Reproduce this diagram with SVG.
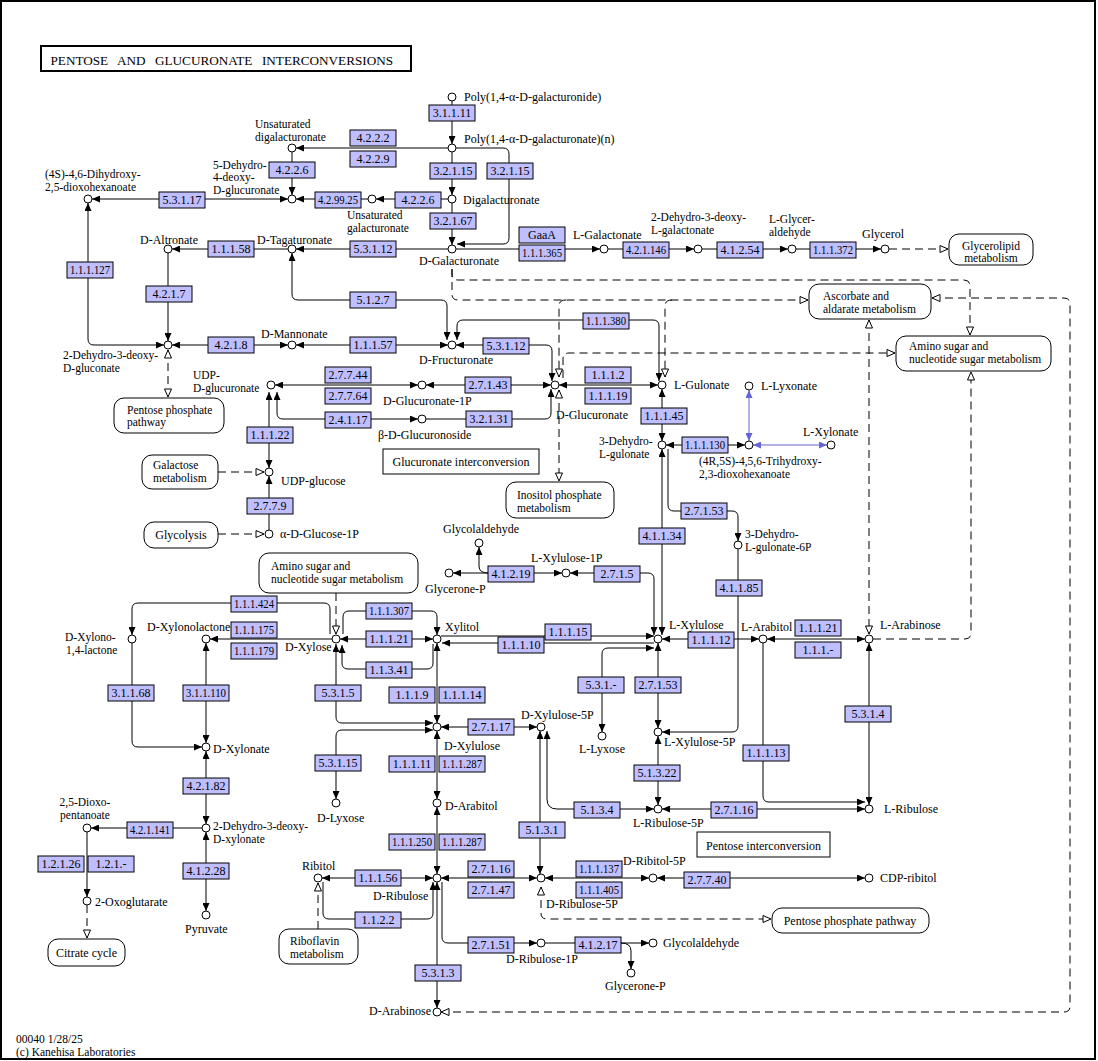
<svg xmlns="http://www.w3.org/2000/svg" width="1098" height="1061" viewBox="0 0 1098 1061">
<style>
text{font-family:"Liberation Serif","Times New Roman",serif;font-size:12px;fill:#000}
text.ml{font-size:11.5px}
.e rect{fill:#bfbfff;stroke:#000;stroke-width:1}
.e text{text-anchor:middle}
.c circle{fill:#fff;stroke:#000;stroke-width:1}
.m rect{fill:#fff;stroke:#000;stroke-width:1}
.mc{text-anchor:middle}
#edges path{fill:none;stroke:#000;stroke-width:1}
#edges path.d{stroke-dasharray:8 5}
#edges path.b2{stroke:#6464d2;marker-start:url(#bh);marker-end:url(#bh)}
.a1{marker-end:url(#ah)}
.a2{marker-start:url(#ah);marker-end:url(#ah)}
.o1{marker-end:url(#oh)}
.o2{marker-start:url(#oh);marker-end:url(#oh)}
</style>
<defs>
<marker id="ah" viewBox="0 0 8 7" refX="8" refY="3.5" markerWidth="8" markerHeight="7" markerUnits="userSpaceOnUse" orient="auto-start-reverse"><path d="M0,0L8,3.5L0,7Z" fill="#000"/></marker>
<marker id="bh" viewBox="0 0 8 7" refX="8" refY="3.5" markerWidth="8" markerHeight="7" markerUnits="userSpaceOnUse" orient="auto-start-reverse"><path d="M0,0L8,3.5L0,7Z" fill="#6464d2"/></marker>
<marker id="oh" viewBox="-1 -1 10 9" refX="8" refY="3.5" markerWidth="10" markerHeight="9" markerUnits="userSpaceOnUse" orient="auto-start-reverse"><path d="M0,0L8,3.5L0,7Z" fill="#fff" stroke="#000" stroke-width="1"/></marker>
</defs>
<rect x="1" y="1" width="1094" height="1058" fill="#fff" stroke="#000" stroke-width="2"/>
<g id="title"><rect x="41" y="46" width="370" height="25" fill="#fff" stroke="#000" stroke-width="2"/><text x="50.5" y="65" style="font-size:13.2px;word-spacing:6.2px">PENTOSE AND GLUCURONATE INTERCONVERSIONS</text></g>

<g id="edges">
<path class="a1" d="M452,101V144"/>
<path class="a1" d="M448,148H296"/>
<path class="a1" d="M292,152V195"/>
<path class="a1" d="M452,152V195"/>
<path class="a1" d="M456,148H503Q509,148 509,154V238Q509,244 503,244H457"/>
<path class="a1" d="M448,199H376"/>
<path class="a1" d="M452,203V245"/>
<path class="a1" d="M368,199H296"/>
<path class="a2" d="M288,199H92"/>
<path class="a1" d="M448,249H296"/>
<path class="a1" d="M288,249H172"/>
<path class="a2" d="M88,203V339Q88,345 94,345H164"/>
<path class="a1" d="M168,253V341"/>
<path class="a2" d="M288,345H172"/>
<path class="a2" d="M448,345H296"/>
<path class="a2" d="M292,253V294Q292,300 298,300H441Q447,300 447,306V340"/>
<path class="a2" d="M457,340V326Q457,320 463,320H653Q659,320 659,326V381"/>
<path class="a2" d="M456,345H546Q552,345 552,351V381"/>
<path class="a2" d="M418,385H275"/>
<path class="a2" d="M551,385H426"/>
<path class="a2" d="M277,392V413Q277,419 283,419H418"/>
<path class="a1" d="M426,419H545Q551,419 551,413V389"/>
<path class="a2" d="M269,392V468"/>
<path class="a1" d="M269,530V476"/>
<path class="a1" d="M456,249H600"/>
<path class="a1" d="M608,249H694"/>
<path class="a1" d="M702,249H788"/>
<path class="a1" d="M796,249H881"/>
<path class="a2" d="M559,385H658"/>
<path class="a2" d="M662,389V441"/>
<path class="a2" d="M745,445H666"/>
<path class="b2" d="M749,441V390"/>
<path class="b2" d="M753,445H827"/>
<path class="a1" d="M668,449V505Q668,511 674,511H732Q738,511 738,517V541"/>
<path class="a2" d="M662,449V635"/>
<path class="a1" d="M738,549V726Q738,732 732,732H662"/>
<path class="a2" d="M570,573H648Q654,573 654,579V635"/>
<path class="a2" d="M562,573H453"/>
<path class="a1" d="M488,573Q479,573 479,566V547"/>
<path class="a1" d="M330,634V609Q330,603 324,603H138Q132,603 132,609V635"/>
<path class="a1" d="M332,639H210"/>
<path class="a2" d="M340,639H433"/>
<path class="a1" d="M343,634V617Q343,611 349,611H431Q437,611 437,617V635"/>
<path class="a1" d="M433,644V663Q433,669 427,669H348Q342,669 342,663V645"/>
<path class="a2" d="M336,644V717Q336,723 342,723H433"/>
<path class="a2" d="M336,799V736Q336,730 342,730H433"/>
<path class="a1" d="M441,636H654"/>
<path class="a1" d="M654,643H442"/>
<path class="a2" d="M602,732V654Q602,648 608,648H654"/>
<path class="a2" d="M759,639H662"/>
<path class="a2" d="M767,639H865"/>
<path class="a2" d="M869,643V805"/>
<path class="a1" d="M763,643V796Q763,802 769,802H865"/>
<path class="a2" d="M662,809H865"/>
<path class="a2" d="M658,643V728"/>
<path class="a2" d="M658,736V805"/>
<path class="a2" d="M547,731V799Q547,809 557,809H654"/>
<path class="a2" d="M540,731V874"/>
<path class="a2" d="M441,727H537"/>
<path class="a2" d="M437,643V723"/>
<path class="a2" d="M437,731V799"/>
<path class="a2" d="M437,807V874"/>
<path class="a2" d="M433,878H322"/>
<path class="a1" d="M323,882V913Q323,919 329,919H427Q433,919 433,913V882"/>
<path class="a2" d="M437,882V1008"/>
<path class="a1" d="M442,882V937Q442,943 448,943H537"/>
<path class="a1" d="M545,943H649"/>
<path class="a1" d="M621,943Q631,943 631,951V969"/>
<path class="a2" d="M441,878H537"/>
<path class="a2" d="M545,878H649"/>
<path class="a2" d="M657,878H865"/>
<path class="a2" d="M206,751V824"/>
<path class="a2" d="M206,643V743"/>
<path class="a1" d="M132,643V741Q132,747 138,747H202"/>
<path class="a1" d="M202,828H91"/>
<path class="a1" d="M87,832V897"/>
<path class="a2" d="M206,832V911"/>
<path class="d o1" d="M452,269V274Q452,280 458,280H964Q970,280 970,286V335"/>
<path class="d o1" d="M452,269V294Q452,300 458,300H808"/>
<path class="d o1" d="M566,300Q559,300 559,306V377"/>
<path class="d o1" d="M672,300Q665,300 665,306V377"/>
<path class="d o1" d="M563,378V359Q563,353 569,353H895"/>
<path class="d o2" d="M559,390V481"/>
<path class="d o2" d="M932,298H1064Q1070,298 1070,304V1006Q1070,1012 1064,1012H441"/>
<path class="d o2" d="M869,320V634"/>
<path class="d o1" d="M873,639H965Q971,639 971,633V372"/>
<path class="d o2" d="M541,887V913Q541,919 547,919H771"/>
<path class="d o1" d="M318,929V883"/>
<path class="d o1" d="M87,905V938"/>
<path class="d o1" d="M336,593V634"/>
<path class="d o2" d="M168,350V397"/>
<path class="d o1" d="M218,472H264"/>
<path class="d o1" d="M218,534H264"/>
<path class="d o1" d="M889,249H948"/>
</g>

<g id="maps">
<g id="m-glycerolipid" class="m"><rect x="949" y="234" width="84" height="31" rx="10"/><text class="mc ml" x="991" y="249.5">Glycerolipid<tspan x="991" dy="12.8">metabolism</tspan></text></g>
<g id="m-ascorbate" class="m"><rect x="809" y="284" width="122" height="35" rx="10"/><text class="ml" x="823" y="300">Ascorbate and<tspan x="823" dy="12.8">aldarate metabolism</tspan></text></g>
<g id="m-aminosugar-r" class="m"><rect x="896" y="336" width="155" height="35" rx="10"/><text class="ml" x="909" y="350">Amino sugar and<tspan x="909" dy="12.8">nucleotide sugar metabolism</tspan></text></g>
<g id="m-ppp-l" class="m"><rect x="114" y="398" width="110" height="35" rx="10"/><text class="ml" x="127" y="413.5">Pentose phosphate<tspan x="127" dy="12.8">pathway</tspan></text></g>
<g id="m-galactose" class="m"><rect x="142" y="455" width="76" height="34" rx="10"/><text class="ml" x="153" y="469">Galactose<tspan x="153" dy="12.8">metabolism</tspan></text></g>
<g id="m-inositol" class="m"><rect x="506" y="482" width="108" height="36" rx="10"/><text class="ml" x="517" y="499">Inositol phosphate<tspan x="517" dy="12.8">metabolism</tspan></text></g>
<g id="m-glycolysis" class="m"><rect x="144" y="522" width="74" height="26" rx="10"/><text class="mc" x="181" y="539">Glycolysis</text></g>
<g id="m-aminosugar-l" class="m"><rect x="259" y="553" width="159" height="40" rx="10"/><text class="ml" x="271" y="570">Amino sugar and<tspan x="271" dy="12.8">nucleotide sugar metabolism</tspan></text></g>
<g id="m-citrate" class="m"><rect x="48" y="939" width="77" height="27" rx="10"/><text class="mc" x="86.5" y="957">Citrate cycle</text></g>
<g id="m-riboflavin" class="m"><rect x="279" y="929" width="79" height="35" rx="10"/><text class="ml" x="290" y="945">Riboflavin<tspan x="290" dy="12.8">metabolism</tspan></text></g>
<g id="m-ppp-r" class="m"><rect x="772" y="908" width="157" height="25" rx="10"/><text class="mc" x="850" y="925">Pentose phosphate pathway</text></g>
<g id="t-glucuronate" class="m"><rect x="383" y="449" width="156" height="25"/><text class="mc" x="461" y="466">Glucuronate interconversion</text></g>
<g id="t-pentose" class="m"><rect x="697" y="832" width="133" height="25"/><text class="mc" x="763.5" y="850">Pentose interconversion</text></g>
</g>

<g id="enzymes">
<g id="e-3.1.1.11" class="e"><rect x="429" y="105" width="46" height="16"/><text x="452" y="117">3.1.1.11</text></g>
<g id="e-4.2.2.2" class="e"><rect x="350" y="130" width="46" height="16"/><text x="373" y="142">4.2.2.2</text></g>
<g id="e-4.2.2.9" class="e"><rect x="350" y="151" width="46" height="16"/><text x="373" y="163">4.2.2.9</text></g>
<g id="e-3.2.1.15a" class="e"><rect x="430" y="163" width="46" height="16"/><text x="453" y="175">3.2.1.15</text></g>
<g id="e-3.2.1.15b" class="e"><rect x="487" y="163" width="46" height="16"/><text x="510" y="175">3.2.1.15</text></g>
<g id="e-4.2.2.6a" class="e"><rect x="269" y="162" width="46" height="16"/><text x="292" y="174">4.2.2.6</text></g>
<g id="e-4.2.2.6b" class="e"><rect x="395" y="192" width="46" height="16"/><text x="418" y="204">4.2.2.6</text></g>
<g id="e-4.2.99.25" class="e"><rect x="315" y="192" width="46" height="16"/><text x="338" y="204" textLength="40" lengthAdjust="spacingAndGlyphs">4.2.99.25</text></g>
<g id="e-5.3.1.17" class="e"><rect x="159" y="192" width="46" height="16"/><text x="182" y="204">5.3.1.17</text></g>
<g id="e-3.2.1.67" class="e"><rect x="430" y="213" width="46" height="16"/><text x="453" y="225">3.2.1.67</text></g>
<g id="e-1.1.1.58" class="e"><rect x="208" y="241" width="46" height="16"/><text x="231" y="253">1.1.1.58</text></g>
<g id="e-5.3.1.12a" class="e"><rect x="350" y="241" width="46" height="16"/><text x="373" y="253">5.3.1.12</text></g>
<g id="e-GaaA" class="e"><rect x="519" y="227" width="46" height="16"/><text x="542" y="239">GaaA</text></g>
<g id="e-1.1.1.365" class="e"><rect x="519" y="245" width="46" height="16"/><text x="542" y="257" textLength="40" lengthAdjust="spacingAndGlyphs">1.1.1.365</text></g>
<g id="e-4.2.1.146" class="e"><rect x="623" y="242" width="46" height="16"/><text x="646" y="254" textLength="40" lengthAdjust="spacingAndGlyphs">4.2.1.146</text></g>
<g id="e-4.1.2.54" class="e"><rect x="717" y="242" width="46" height="16"/><text x="740" y="254">4.1.2.54</text></g>
<g id="e-1.1.1.372" class="e"><rect x="810" y="242" width="46" height="16"/><text x="833" y="254" textLength="40" lengthAdjust="spacingAndGlyphs">1.1.1.372</text></g>
<g id="e-1.1.1.127" class="e"><rect x="67" y="262" width="46" height="16"/><text x="90" y="274" textLength="40" lengthAdjust="spacingAndGlyphs">1.1.1.127</text></g>
<g id="e-4.2.1.7" class="e"><rect x="146" y="286" width="46" height="16"/><text x="169" y="298">4.2.1.7</text></g>
<g id="e-5.1.2.7" class="e"><rect x="350" y="292" width="46" height="16"/><text x="373" y="304">5.1.2.7</text></g>
<g id="e-4.2.1.8" class="e"><rect x="208" y="337" width="46" height="16"/><text x="231" y="349">4.2.1.8</text></g>
<g id="e-1.1.1.57" class="e"><rect x="350" y="337" width="46" height="16"/><text x="373" y="349">1.1.1.57</text></g>
<g id="e-5.3.1.12b" class="e"><rect x="483" y="338" width="46" height="16"/><text x="506" y="350">5.3.1.12</text></g>
<g id="e-1.1.1.380" class="e"><rect x="583" y="313" width="46" height="16"/><text x="606" y="325" textLength="40" lengthAdjust="spacingAndGlyphs">1.1.1.380</text></g>
<g id="e-2.7.7.44" class="e"><rect x="325" y="367" width="46" height="16"/><text x="348" y="379">2.7.7.44</text></g>
<g id="e-2.7.7.64" class="e"><rect x="325" y="388" width="46" height="16"/><text x="348" y="400">2.7.7.64</text></g>
<g id="e-2.4.1.17" class="e"><rect x="325" y="412" width="46" height="16"/><text x="348" y="424">2.4.1.17</text></g>
<g id="e-2.7.1.43" class="e"><rect x="465" y="377" width="46" height="16"/><text x="488" y="389">2.7.1.43</text></g>
<g id="e-3.2.1.31" class="e"><rect x="466" y="411" width="46" height="16"/><text x="489" y="423">3.2.1.31</text></g>
<g id="e-1.1.1.2" class="e"><rect x="585" y="367" width="46" height="16"/><text x="608" y="379">1.1.1.2</text></g>
<g id="e-1.1.1.19" class="e"><rect x="585" y="388" width="46" height="16"/><text x="608" y="400">1.1.1.19</text></g>
<g id="e-1.1.1.45" class="e"><rect x="641" y="408" width="46" height="16"/><text x="664" y="420">1.1.1.45</text></g>
<g id="e-1.1.1.130" class="e"><rect x="682" y="437" width="46" height="16"/><text x="705" y="449" textLength="40" lengthAdjust="spacingAndGlyphs">1.1.1.130</text></g>
<g id="e-1.1.1.22" class="e"><rect x="247" y="427" width="46" height="16"/><text x="270" y="439">1.1.1.22</text></g>
<g id="e-2.7.7.9" class="e"><rect x="247" y="498" width="46" height="16"/><text x="270" y="510">2.7.7.9</text></g>
<g id="e-2.7.1.53a" class="e"><rect x="681" y="503" width="46" height="16"/><text x="704" y="515">2.7.1.53</text></g>
<g id="e-4.1.1.34" class="e"><rect x="639" y="528" width="46" height="16"/><text x="662" y="540">4.1.1.34</text></g>
<g id="e-4.1.1.85" class="e"><rect x="716" y="580" width="46" height="16"/><text x="739" y="592">4.1.1.85</text></g>
<g id="e-4.1.2.19" class="e"><rect x="488" y="566" width="46" height="16"/><text x="511" y="578">4.1.2.19</text></g>
<g id="e-2.7.1.5" class="e"><rect x="594" y="566" width="46" height="16"/><text x="617" y="578">2.7.1.5</text></g>
<g id="e-1.1.1.424" class="e"><rect x="231" y="596" width="46" height="16"/><text x="254" y="608" textLength="40" lengthAdjust="spacingAndGlyphs">1.1.1.424</text></g>
<g id="e-1.1.1.307" class="e"><rect x="366" y="603" width="46" height="16"/><text x="389" y="615" textLength="40" lengthAdjust="spacingAndGlyphs">1.1.1.307</text></g>
<g id="e-1.1.1.175" class="e"><rect x="231" y="622" width="46" height="16"/><text x="254" y="634" textLength="40" lengthAdjust="spacingAndGlyphs">1.1.1.175</text></g>
<g id="e-1.1.1.179" class="e"><rect x="231" y="643" width="46" height="16"/><text x="254" y="655" textLength="40" lengthAdjust="spacingAndGlyphs">1.1.1.179</text></g>
<g id="e-1.1.1.21a" class="e"><rect x="366" y="631" width="46" height="16"/><text x="389" y="643">1.1.1.21</text></g>
<g id="e-1.1.1.15" class="e"><rect x="545" y="624" width="46" height="16"/><text x="568" y="636">1.1.1.15</text></g>
<g id="e-1.1.1.10" class="e"><rect x="498" y="637" width="46" height="16"/><text x="521" y="649">1.1.1.10</text></g>
<g id="e-1.1.1.12" class="e"><rect x="688" y="632" width="46" height="16"/><text x="711" y="644">1.1.1.12</text></g>
<g id="e-1.1.1.21b" class="e"><rect x="795" y="620" width="46" height="16"/><text x="818" y="632">1.1.1.21</text></g>
<g id="e-1.1.1.-" class="e"><rect x="795" y="642" width="46" height="16"/><text x="818" y="654">1.1.1.-</text></g>
<g id="e-1.1.3.41" class="e"><rect x="366" y="662" width="46" height="16"/><text x="389" y="674">1.1.3.41</text></g>
<g id="e-3.1.1.68" class="e"><rect x="108" y="685" width="46" height="16"/><text x="131" y="697">3.1.1.68</text></g>
<g id="e-3.1.1.110" class="e"><rect x="183" y="685" width="46" height="16"/><text x="206" y="697" textLength="40" lengthAdjust="spacingAndGlyphs">3.1.1.110</text></g>
<g id="e-5.3.1.5" class="e"><rect x="315" y="685" width="46" height="16"/><text x="338" y="697">5.3.1.5</text></g>
<g id="e-1.1.1.9" class="e"><rect x="389" y="687" width="46" height="16"/><text x="412" y="699">1.1.1.9</text></g>
<g id="e-1.1.1.14" class="e"><rect x="439" y="687" width="46" height="16"/><text x="462" y="699">1.1.1.14</text></g>
<g id="e-5.3.1.-" class="e"><rect x="578" y="677" width="46" height="16"/><text x="601" y="689">5.3.1.-</text></g>
<g id="e-2.7.1.53b" class="e"><rect x="635" y="677" width="46" height="16"/><text x="658" y="689">2.7.1.53</text></g>
<g id="e-5.3.1.4" class="e"><rect x="845" y="706" width="46" height="16"/><text x="868" y="718">5.3.1.4</text></g>
<g id="e-2.7.1.17" class="e"><rect x="468" y="719" width="46" height="16"/><text x="491" y="731">2.7.1.17</text></g>
<g id="e-1.1.1.13" class="e"><rect x="743" y="745" width="46" height="16"/><text x="766" y="757">1.1.1.13</text></g>
<g id="e-5.3.1.15" class="e"><rect x="315" y="755" width="46" height="16"/><text x="338" y="767">5.3.1.15</text></g>
<g id="e-1.1.1.11" class="e"><rect x="389" y="756" width="46" height="16"/><text x="412" y="768">1.1.1.11</text></g>
<g id="e-1.1.1.287a" class="e"><rect x="439" y="756" width="46" height="16"/><text x="462" y="768" textLength="40" lengthAdjust="spacingAndGlyphs">1.1.1.287</text></g>
<g id="e-5.1.3.22" class="e"><rect x="634" y="765" width="46" height="16"/><text x="657" y="777">5.1.3.22</text></g>
<g id="e-4.2.1.82" class="e"><rect x="183" y="778" width="46" height="16"/><text x="206" y="790">4.2.1.82</text></g>
<g id="e-5.1.3.4" class="e"><rect x="574" y="802" width="46" height="16"/><text x="597" y="814">5.1.3.4</text></g>
<g id="e-2.7.1.16b" class="e"><rect x="711" y="802" width="46" height="16"/><text x="734" y="814">2.7.1.16</text></g>
<g id="e-4.2.1.141" class="e"><rect x="127" y="822" width="46" height="16"/><text x="150" y="834" textLength="40" lengthAdjust="spacingAndGlyphs">4.2.1.141</text></g>
<g id="e-5.1.3.1" class="e"><rect x="519" y="822" width="46" height="16"/><text x="542" y="834">5.1.3.1</text></g>
<g id="e-1.1.1.250" class="e"><rect x="389" y="834" width="46" height="16"/><text x="412" y="846" textLength="40" lengthAdjust="spacingAndGlyphs">1.1.1.250</text></g>
<g id="e-1.1.1.287b" class="e"><rect x="439" y="834" width="46" height="16"/><text x="462" y="846" textLength="40" lengthAdjust="spacingAndGlyphs">1.1.1.287</text></g>
<g id="e-1.2.1.26" class="e"><rect x="38" y="856" width="46" height="16"/><text x="61" y="868">1.2.1.26</text></g>
<g id="e-1.2.1.-" class="e"><rect x="88" y="856" width="46" height="16"/><text x="111" y="868">1.2.1.-</text></g>
<g id="e-4.1.2.28" class="e"><rect x="183" y="863" width="46" height="16"/><text x="206" y="875">4.1.2.28</text></g>
<g id="e-2.7.1.16a" class="e"><rect x="468" y="861" width="46" height="16"/><text x="491" y="873">2.7.1.16</text></g>
<g id="e-2.7.1.47" class="e"><rect x="468" y="882" width="46" height="16"/><text x="491" y="894">2.7.1.47</text></g>
<g id="e-1.1.1.137" class="e"><rect x="576" y="861" width="46" height="16"/><text x="599" y="873" textLength="40" lengthAdjust="spacingAndGlyphs">1.1.1.137</text></g>
<g id="e-1.1.1.405" class="e"><rect x="576" y="882" width="46" height="16"/><text x="599" y="894" textLength="40" lengthAdjust="spacingAndGlyphs">1.1.1.405</text></g>
<g id="e-1.1.1.56" class="e"><rect x="355" y="870" width="46" height="16"/><text x="378" y="882">1.1.1.56</text></g>
<g id="e-2.7.7.40" class="e"><rect x="684" y="872" width="46" height="16"/><text x="707" y="884">2.7.7.40</text></g>
<g id="e-1.1.2.2" class="e"><rect x="355" y="912" width="46" height="16"/><text x="378" y="924">1.1.2.2</text></g>
<g id="e-2.7.1.51" class="e"><rect x="468" y="937" width="46" height="16"/><text x="491" y="949">2.7.1.51</text></g>
<g id="e-4.1.2.17" class="e"><rect x="575" y="937" width="46" height="16"/><text x="598" y="949">4.1.2.17</text></g>
<g id="e-5.3.1.3" class="e"><rect x="415" y="965" width="46" height="16"/><text x="438" y="977">5.3.1.3</text></g>
</g>

<g id="compounds">
<g id="c-polygalacturonide" class="c"><circle cx="452" cy="97" r="4"/><text x="464" y="101">Poly(1,4-α-D-galacturonide)</text></g>
<g id="c-polygalacturonate" class="c"><circle cx="452" cy="148" r="4"/><text x="464" y="143">Poly(1,4-α-D-galacturonate)(n)</text></g>
<g id="c-unsat-digalacturonate" class="c"><circle cx="292" cy="148" r="4"/><text class="ml" x="255" y="128">Unsaturated<tspan x="255" dy="12.8">digalacturonate</tspan></text></g>
<g id="c-dehydro-deoxy-glucuronate" class="c"><circle cx="292" cy="199" r="4"/><text class="ml" x="213" y="168.5">5-Dehydro-<tspan x="213" dy="12.8">4-deoxy-</tspan><tspan x="213" dy="12.8">D-glucuronate</tspan></text></g>
<g id="c-dihydroxy-dioxohexanoate" class="c"><circle cx="88" cy="199" r="4"/><text class="ml" x="45" y="178">(4S)-4,6-Dihydroxy-<tspan x="45" dy="12.8">2,5-dioxohexanoate</tspan></text></g>
<g id="c-unsat-galacturonate" class="c"><circle cx="372" cy="199" r="4"/><text class="ml" x="347" y="219">Unsaturated<tspan x="347" dy="12.8">galacturonate</tspan></text></g>
<g id="c-digalacturonate" class="c"><circle cx="452" cy="199" r="4"/><text x="463" y="204">Digalacturonate</text></g>
<g id="c-d-galacturonate" class="c"><circle cx="452" cy="249" r="4"/><text x="419" y="265">D-Galacturonate</text></g>
<g id="c-d-tagaturonate" class="c"><circle cx="292" cy="249" r="4"/><text x="257" y="244">D-Tagaturonate</text></g>
<g id="c-d-altronate" class="c"><circle cx="168" cy="249" r="4"/><text x="140" y="244">D-Altronate</text></g>
<g id="c-l-galactonate" class="c"><circle cx="604" cy="249" r="4"/><text x="573" y="239">L-Galactonate</text></g>
<g id="c-dehydro-deoxy-l-galactonate" class="c"><circle cx="698" cy="249" r="4"/><text class="ml" x="651" y="221">2-Dehydro-3-deoxy-<tspan x="651" dy="12.8">L-galactonate</tspan></text></g>
<g id="c-l-glyceraldehyde" class="c"><circle cx="792" cy="249" r="4"/><text class="ml" x="769" y="223">L-Glycer-<tspan x="769" dy="12.8">aldehyde</tspan></text></g>
<g id="c-glycerol" class="c"><circle cx="885" cy="249" r="4"/><text x="862" y="238">Glycerol</text></g>
<g id="c-dehydro-deoxy-d-gluconate" class="c"><circle cx="168" cy="345" r="4"/><text class="ml" x="63" y="359">2-Dehydro-3-deoxy-<tspan x="63" dy="12.8">D-gluconate</tspan></text></g>
<g id="c-d-mannonate" class="c"><circle cx="292" cy="345" r="4"/><text x="261" y="338">D-Mannonate</text></g>
<g id="c-d-fructuronate" class="c"><circle cx="452" cy="345" r="4"/><text x="419" y="364">D-Fructuronate</text></g>
<g id="c-udp-glucuronate" class="c"><circle cx="271" cy="385" r="4"/><text class="ml" x="193" y="379">UDP-<tspan x="193" dy="12.8">D-glucuronate</tspan></text></g>
<g id="c-d-glucuronate-1p" class="c"><circle cx="422" cy="385" r="4"/><text x="383" y="405">D-Glucuronate-1P</text></g>
<g id="c-d-glucuronate" class="c"><circle cx="555" cy="385" r="4"/><text x="556" y="419">D-Glucuronate</text></g>
<g id="c-l-gulonate" class="c"><circle cx="662" cy="385" r="4"/><text x="674" y="389">L-Gulonate</text></g>
<g id="c-glucuronoside" class="c"><circle cx="422" cy="419" r="4"/><text x="378" y="439">β-D-Glucuronoside</text></g>
<g id="c-l-lyxonate" class="c"><circle cx="749" cy="386" r="4"/><text x="761" y="390">L-Lyxonate</text></g>
<g id="c-dehydro-l-gulonate" class="c"><circle cx="662" cy="445" r="4"/><text class="ml" x="599" y="445">3-Dehydro-<tspan x="599" dy="12.8">L-gulonate</tspan></text></g>
<g id="c-trihydroxy-dioxohexanoate" class="c"><circle cx="749" cy="445" r="4"/><text class="ml" x="699" y="465">(4R,5S)-4,5,6-Trihydroxy-<tspan x="699" dy="12.8">2,3-dioxohexanoate</tspan></text></g>
<g id="c-l-xylonate" class="c"><circle cx="831" cy="445" r="4"/><text x="803" y="436">L-Xylonate</text></g>
<g id="c-udp-glucose" class="c"><circle cx="269" cy="472" r="4"/><text x="281" y="485">UDP-glucose</text></g>
<g id="c-glucose-1p" class="c"><circle cx="269" cy="534" r="4"/><text x="280" y="538">α-D-Glucose-1P</text></g>
<g id="c-dehydro-l-gulonate-6p" class="c"><circle cx="738" cy="545" r="4"/><text class="ml" x="745" y="538">3-Dehydro-<tspan x="745" dy="12.8">L-gulonate-6P</tspan></text></g>
<g id="c-glycolaldehyde-a" class="c"><circle cx="479" cy="543" r="4"/><text x="443" y="533">Glycolaldehyde</text></g>
<g id="c-glycerone-p-a" class="c"><circle cx="449" cy="573" r="4"/><text x="425" y="593">Glycerone-P</text></g>
<g id="c-l-xylulose-1p" class="c"><circle cx="566" cy="573" r="4"/><text x="531" y="562">L-Xylulose-1P</text></g>
<g id="c-d-xylono-lactone" class="c"><circle cx="132" cy="639" r="4"/><text class="ml" x="65" y="641">D-Xylono-<tspan x="66" dy="12.8">1,4-lactone</tspan></text></g>
<g id="c-d-xylonolactone" class="c"><circle cx="206" cy="639" r="4"/><text x="147" y="631">D-Xylonolactone</text></g>
<g id="c-d-xylose" class="c"><circle cx="336" cy="639" r="4"/><text x="285" y="651">D-Xylose</text></g>
<g id="c-xylitol" class="c"><circle cx="437" cy="639" r="4"/><text x="445" y="631">Xylitol</text></g>
<g id="c-l-xylulose" class="c"><circle cx="658" cy="639" r="4"/><text x="669" y="629">L-Xylulose</text></g>
<g id="c-l-arabitol" class="c"><circle cx="763" cy="639" r="4"/><text x="741" y="631">L-Arabitol</text></g>
<g id="c-l-arabinose" class="c"><circle cx="869" cy="639" r="4"/><text x="880" y="629">L-Arabinose</text></g>
<g id="c-d-xylulose" class="c"><circle cx="437" cy="727" r="4"/><text x="444" y="750">D-Xylulose</text></g>
<g id="c-d-xylulose-5p" class="c"><circle cx="541" cy="727" r="4"/><text x="521" y="719">D-Xylulose-5P</text></g>
<g id="c-l-xylulose-5p" class="c"><circle cx="658" cy="732" r="4"/><text x="664" y="746">L-Xylulose-5P</text></g>
<g id="c-l-lyxose" class="c"><circle cx="602" cy="736" r="4"/><text x="579" y="753">L-Lyxose</text></g>
<g id="c-d-xylonate" class="c"><circle cx="206" cy="747" r="4"/><text x="213" y="753">D-Xylonate</text></g>
<g id="c-d-lyxose" class="c"><circle cx="336" cy="803" r="4"/><text x="317" y="822">D-Lyxose</text></g>
<g id="c-d-arabitol" class="c"><circle cx="437" cy="803" r="4"/><text x="445" y="810">D-Arabitol</text></g>
<g id="c-l-ribulose-5p" class="c"><circle cx="658" cy="809" r="4"/><text x="633" y="827">L-Ribulose-5P</text></g>
<g id="c-l-ribulose" class="c"><circle cx="869" cy="809" r="4"/><text x="884" y="813">L-Ribulose</text></g>
<g id="c-dehydro-deoxy-d-xylonate" class="c"><circle cx="206" cy="828" r="4"/><text class="ml" x="213" y="830">2-Dehydro-3-deoxy-<tspan x="213" dy="12.8">D-xylonate</tspan></text></g>
<g id="c-dioxopentanoate" class="c"><circle cx="87" cy="828" r="4"/><text class="mc ml" x="85" y="806">2,5-Dioxo-<tspan x="85" dy="12.8">pentanoate</tspan></text></g>
<g id="c-ribitol" class="c"><circle cx="318" cy="878" r="4"/><text x="302" y="870">Ribitol</text></g>
<g id="c-d-ribulose" class="c"><circle cx="437" cy="878" r="4"/><text x="373" y="900">D-Ribulose</text></g>
<g id="c-d-ribulose-5p" class="c"><circle cx="541" cy="878" r="4"/><text x="546" y="908">D-Ribulose-5P</text></g>
<g id="c-d-ribitol-5p" class="c"><circle cx="653" cy="878" r="4"/><text x="623" y="865">D-Ribitol-5P</text></g>
<g id="c-cdp-ribitol" class="c"><circle cx="869" cy="878" r="4"/><text x="880" y="882">CDP-ribitol</text></g>
<g id="c-oxoglutarate" class="c"><circle cx="87" cy="901" r="4"/><text x="95" y="906">2-Oxoglutarate</text></g>
<g id="c-pyruvate" class="c"><circle cx="206" cy="915" r="4"/><text x="185" y="933">Pyruvate</text></g>
<g id="c-d-ribulose-1p" class="c"><circle cx="541" cy="943" r="4"/><text x="506" y="963">D-Ribulose-1P</text></g>
<g id="c-glycolaldehyde-b" class="c"><circle cx="653" cy="943" r="4"/><text x="663" y="947">Glycolaldehyde</text></g>
<g id="c-glycerone-p-b" class="c"><circle cx="631" cy="973" r="4"/><text x="605" y="990">Glycerone-P</text></g>
<g id="c-d-arabinose" class="c"><circle cx="437" cy="1012" r="4"/><text x="369" y="1015">D-Arabinose</text></g>
</g>

<g id="footer"><text class="ml" x="16" y="1043">00040 1/28/25<tspan x="16" dy="12.8">(c) Kanehisa Laboratories</tspan></text></g>
</svg>
